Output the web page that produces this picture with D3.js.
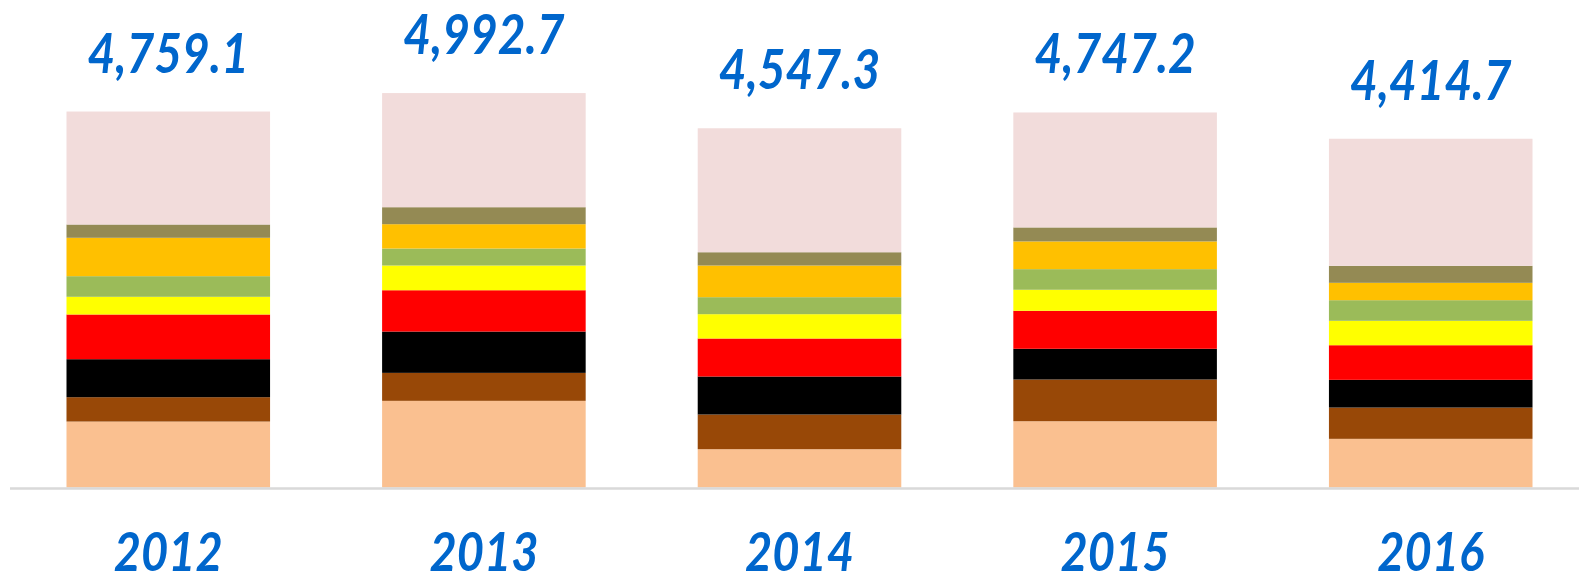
<!DOCTYPE html>
<html>
<head>
<meta charset="utf-8">
<script src="https://d3js.org/d3.v7.min.js"></script>
<style>
  body { margin: 0; background: #fff; }
  svg { display: block; }
</style>
</head>
<body>
<div id="chart"></div>
<script>
//Years and stacked segments, bottom to top
const years = ["2012", "2013", "2014", "2015", "2016"];
const totals = [4759.1, 4992.7, 4547.3, 4747.2, 4414.7];
const totalLabels = ["4,759.1", "4,992.7", "4,547.3", "4,747.2", "4,414.7"];
const seriesNames = ["s1", "s2", "s3", "s4", "s5", "s6", "s7", "s8", "s9"];
const s1 = [835, 1097, 485, 839, 616];
const s2 = [308, 354, 439, 528, 396];
const s3 = [481, 523, 481, 389, 351];
const s4 = [566, 523, 481, 481, 438];
const s5 = [224, 313, 308, 266, 309];
const s6 = [261, 215, 215, 261, 261];
const s7 = [486, 308, 401, 351, 220];
const s8 = [168, 215, 168, 177, 215];
const s9 = [1430.1, 1444.7, 1569.3, 1455.2, 1608.7];
const seriesColors = ["#fac090", "#984807", "#000000", "#ff0000", "#ffff00", "#9bbb59", "#ffc000", "#948a54", "#f2dcdb"];

const allSeries = [s1, s2, s3, s4, s5, s6, s7, s8, s9];
let table = years.map((y, i) => {
  let row = {year: y};
  seriesNames.forEach((n, j) => row[n] = allSeries[j][i]);
  return row;
});

const svgWidth = 1579;
const svgHeight = 583;
const svg = d3.select("#chart").append("svg").attr("width", svgWidth).attr("height", svgHeight);

//Formatting and Scales
const baseY = 487.5;
const blue = "#0066cc";
const font = "Lato, 'Open Sans', sans-serif";
const xScale = d3.scaleBand().domain(years).range([10, 1589]).paddingInner(0.355).paddingOuter(0.179);
const yScale = d3.scaleLinear().domain([0, 5000]).range([baseY, baseY - 5000 * 0.079]);
const colorScale = d3.scaleOrdinal().domain(seriesNames).range(seriesColors);

let stacked = d3.stack().keys(seriesNames)(table);

svg.append("g").selectAll("g").data(stacked).enter().append("g")
    .attr("fill", d => colorScale(d.key))
    .selectAll("rect").data(d => d).enter().append("rect")
    .attr("x", d => xScale(d.data.year))
    .attr("width", xScale.bandwidth())
    .attr("y", d => yScale(d[1]))
    .attr("height", d => yScale(d[0]) - yScale(d[1]));

//Axis line
svg.append("line")
    .attr("x1", 10).attr("x2", svgWidth)
    .attr("y1", baseY + 1).attr("y2", baseY + 1)
    .attr("stroke", "#d9d9d9").attr("stroke-width", 2.5);

//Total labels above bars
let totalText = svg.append("g").selectAll("text").data(years).enter().append("text")
    .attr("x", (d, i) => xScale(d) + xScale.bandwidth() / 2)
    .attr("y", (d, i) => yScale(totals[i]) - 39)
    .attr("text-anchor", "middle")
    .attr("font-family", font).attr("font-weight", "bold").attr("font-style", "italic")
    .attr("font-size", 55).attr("fill", blue)
    .text((d, i) => totalLabels[i]);

//Year labels under the axis
let yearText = svg.append("g").selectAll("text").data(years).enter().append("text")
    .attr("x", d => xScale(d) + xScale.bandwidth() / 2)
    .attr("y", 571)
    .attr("text-anchor", "middle")
    .attr("font-family", font).attr("font-weight", "bold").attr("font-style", "italic")
    .attr("font-size", 54).attr("fill", blue)
    .text(d => d);

//squeeze text a bit, the original font is narrower
[totalText, yearText].forEach(sel => sel.each(function() {
  let w = this.getComputedTextLength();
  d3.select(this).attr("textLength", w * 0.87).attr("lengthAdjust", "spacingAndGlyphs");
}));
</script>
</body>
</html>
